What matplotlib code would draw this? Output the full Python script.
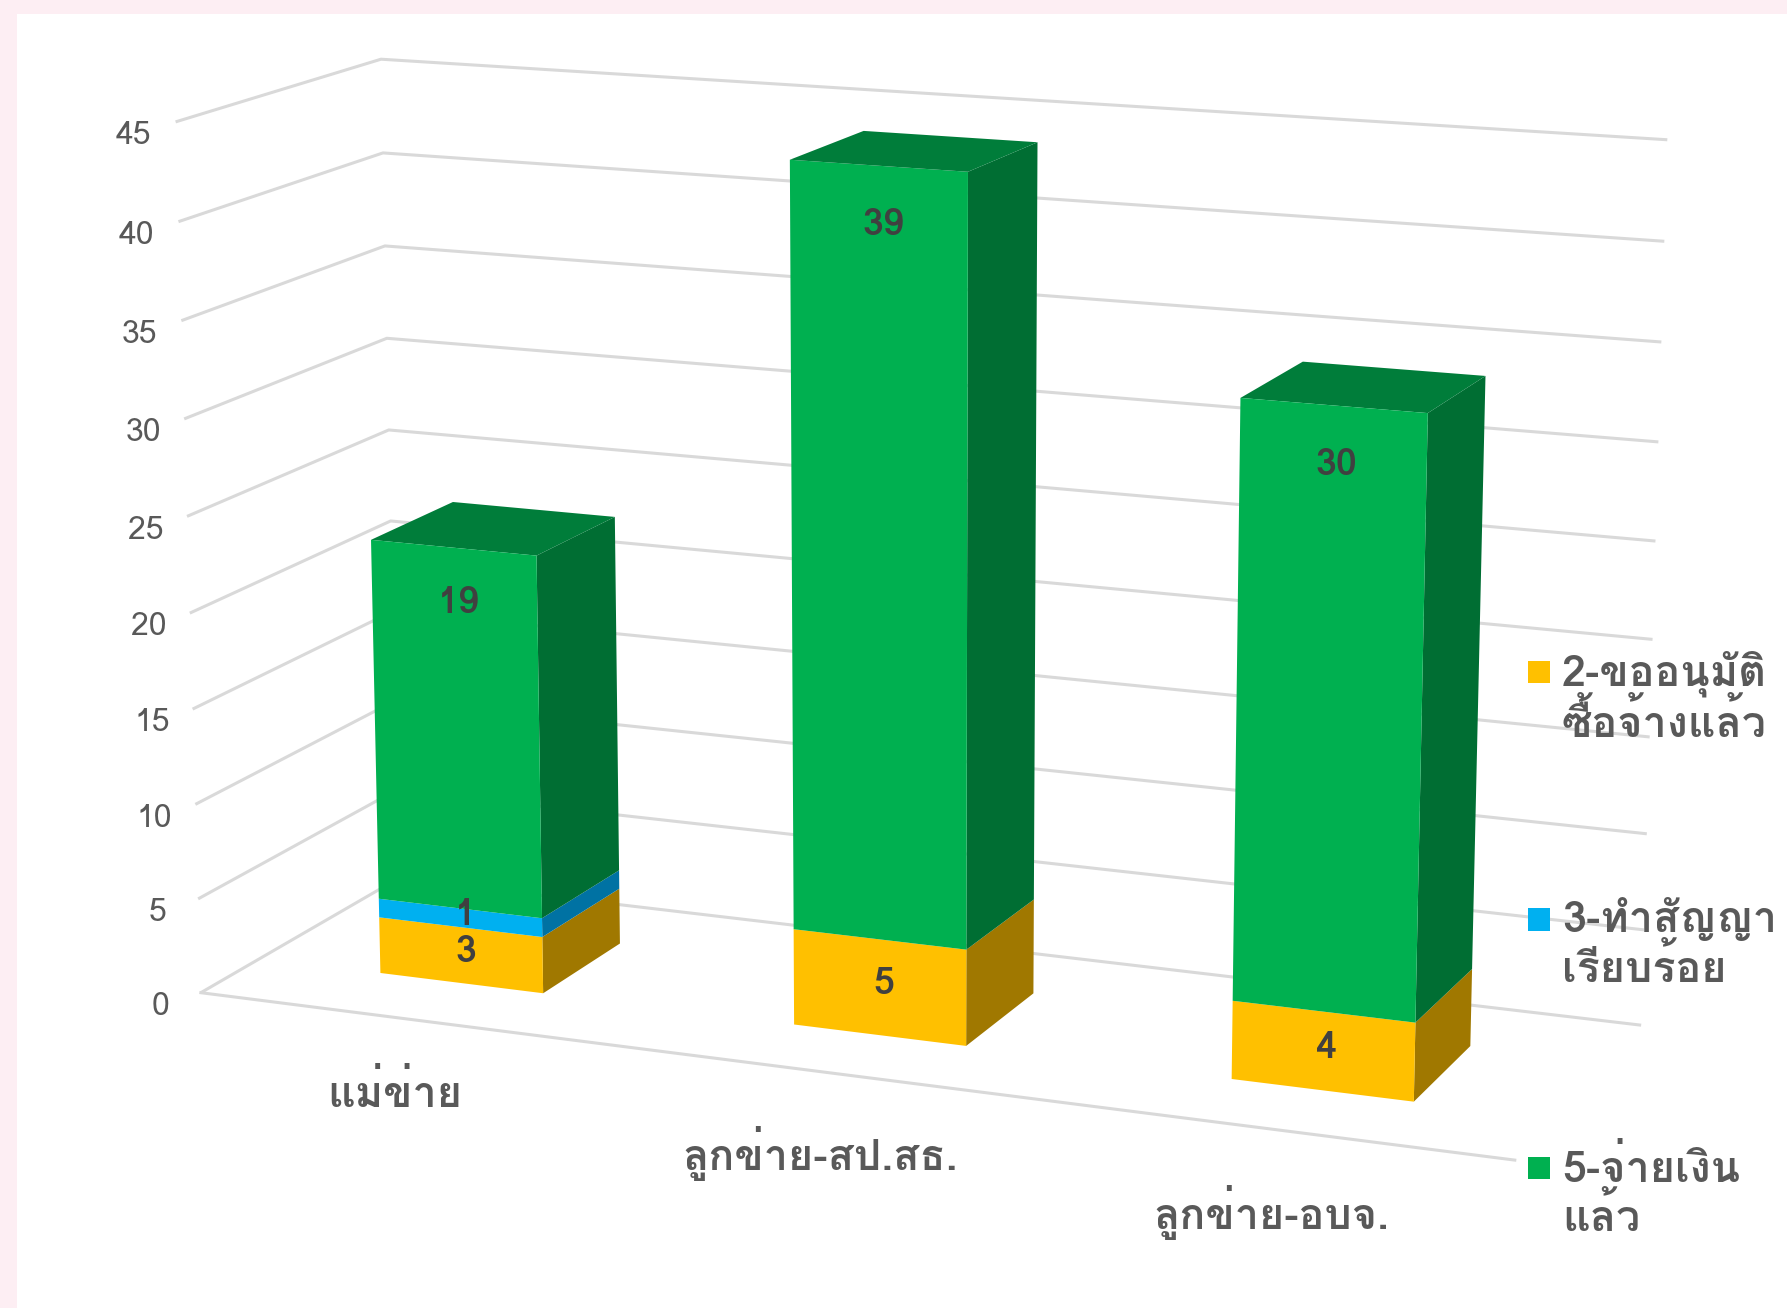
import numpy as np
import matplotlib
matplotlib.use('Agg')
import matplotlib.pyplot as plt
from matplotlib import font_manager, ft2font
from matplotlib.patches import Rectangle
from mpl_toolkits.mplot3d import proj3d

# ---------------- data ----------------
categories = ['แม่ข่าย', 'ลูกข่าย-สป.สธ.', 'ลูกข่าย-อบจ.']
series_names = ['2-ขออนุมัติ\nซื้อจ้างแล้ว', '3-ทำสัญญา\nเรียบร้อย', '5-จ่ายเงิน\nแล้ว']
approved = [3, 5, 4]      # 2-ขออนุมัติซื้อจ้างแล้ว
contracted = [1, 0, 0]    # 3-ทำสัญญาเรียบร้อย
paid = [19, 39, 30]       # 5-จ่ายเงินแล้ว
z_ticks = [0, 5, 10, 15, 20, 25, 30, 35, 40, 45]

# ---------------- fonts ----------------
def thai_families():
    found = []
    for f in font_manager.fontManager.ttflist:
        try:
            cm = ft2font.FT2Font(f.fname).get_charmap()
        except Exception:
            continue
        if 0x0E01 in cm and 0x0E48 in cm and 0x0E34 in cm:
            if f.name not in found:
                found.append(f.name)
    return found

th = thai_families()
fam = th[:1] + ['DejaVu Sans']
plt.rcParams['font.family'] = fam

front_c = ['#FFC000', '#00B0F0', '#00B050']
side_c = ['#A07800', '#0072A3', '#006E33']
top_c = ['#C89700', '#0088BB', '#007D3A']
NONE = (1, 1, 1, 0)

fig = plt.figure(figsize=(17.87, 13.08), dpi=100)
fig.patch.set_facecolor('#FDEEF3')
fig.add_artist(Rectangle((17 / 1787, 0), 1, 1 - 14 / 1308, transform=fig.transFigure,
                         facecolor='white', edgecolor='none', zorder=-10))

ax = fig.add_axes([0.072, 0.045, 0.86, 1.0], projection='3d')
ax.patch.set_alpha(0)
ax.set_proj_type('persp', focal_length=0.85)
ax.view_init(elev=13.5, azim=-68)
ax.set_box_aspect((1.0, 0.32, 0.645), zoom=1.28)

n = len(categories)
xs = np.arange(n)
bw, bd = 0.4, 0.42
y0 = 0.5 - bd / 2
stack = [approved, contracted, paid]

ax.set_xlim(-0.5, n - 0.5)
ax.set_ylim(0, 1)
ax.set_zlim(0, 45)

X, Y, Z, DX, DY, DZ, C = [], [], [], [], [], [], []
bottom = np.zeros(n)
totals = np.sum(stack, axis=0)
labels = []
for si, vals in enumerate(stack):
    for i in range(n):
        v = vals[i]
        if v <= 0:
            continue
        is_top = (bottom[i] + v) >= totals[i]
        X.append(xs[i] - bw / 2); Y.append(y0); Z.append(bottom[i])
        DX.append(bw); DY.append(bd); DZ.append(v)
        # faces: -z, +z, -y(front), +y, -x, +x(right)
        C += [NONE, top_c[si] if is_top else NONE, front_c[si], NONE, NONE, side_c[si]]
        zlab = bottom[i] + v - min(v / 2, 3.0)
        labels.append((xs[i], y0 + bd * 0.06, zlab, str(v)))
    bottom = bottom + np.array(vals)

ax.bar3d(X, Y, Z, DX, DY, DZ, color=C, shade=False, linewidth=0, edgecolor=None)

ax.set_xticks(xs, categories)
ax.set_yticks([])
ax.set_zticks(z_ticks)
ax.zaxis.set_ticks_position('lower')

for axis in (ax.xaxis, ax.yaxis, ax.zaxis):
    axis.set_pane_color((1, 1, 1, 0))
    axis.pane.set_edgecolor((1, 1, 1, 0))
    axis._axinfo['tick']['inward_factor'] = 0.0
    axis._axinfo['tick']['outward_factor'] = 0.0
ax.xaxis._axinfo['grid']['color'] = NONE
ax.yaxis._axinfo['grid']['color'] = NONE
ax.zaxis._axinfo['grid']['color'] = '#D9D9D9'
ax.zaxis._axinfo['grid']['linewidth'] = 2.2
ax.xaxis.line.set_color('#D9D9D9')
ax.xaxis.line.set_linewidth(2.2)
ax.yaxis.line.set_color(NONE)
ax.zaxis.line.set_color(NONE)

ax.tick_params(axis='z', labelsize=23, labelcolor='#595959', pad=6)
ax.tick_params(axis='x', labelsize=31, labelcolor='#595959', pad=18)
for t in ax.get_xticklabels():
    t.set_fontweight('bold')

# value labels: project 3D anchor to the 2D plane of the axes
M = ax.get_proj()
for (x, y, z, s) in labels:
    px, py, _ = proj3d.proj_transform(x, y, z, M)
    ax.text2D(px, py, s, transform=ax.transData, ha='center', va='center',
              fontsize=27, color='#404040', fontweight='bold', zorder=100)

# legend (manual, marker aligned with first line)
leg_y = [0.486, 0.297, 0.107]
for si in range(3):
    fig.add_artist(Rectangle((0.855, leg_y[si] - 0.0085), 0.0125, 0.017,
                             transform=fig.transFigure, facecolor=front_c[si],
                             edgecolor='none'))
    fig.text(0.874, leg_y[si] + 0.017, series_names[si], ha='left', va='top',
             fontsize=31, fontweight='bold', color='#595959', linespacing=1.1)

fig.savefig('out.png', dpi=100, facecolor=fig.get_facecolor())
